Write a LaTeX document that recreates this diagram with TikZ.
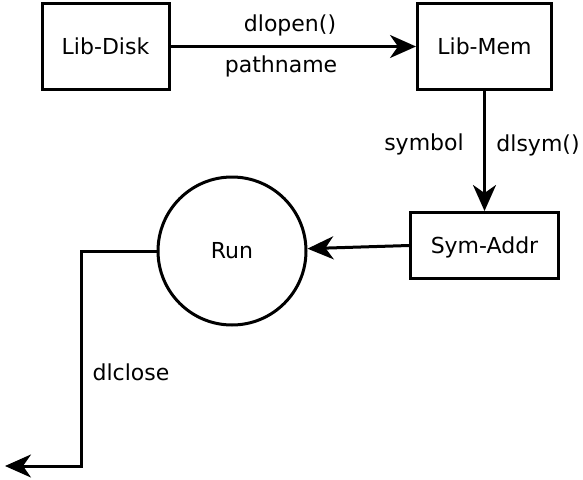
\documentclass[tikz,border=0pt]{standalone}
\usepackage{fontspec}
\setmainfont{DejaVu Sans}
\usetikzlibrary{arrows.meta}
\begin{document}
\begin{tikzpicture}[x=1pt,y=-1pt,
  font=\fontsize{22}{26}\selectfont,
  box/.style={draw,line width=3pt,inner sep=0pt,minimum width=#1,text height=17pt,text depth=2pt},
  conn/.style={line width=3pt,-{Stealth[length=26pt,width=23pt,inset=8pt]}},
  lbl/.style={inner sep=0pt}]
\useasboundingbox (0,0) rectangle (583,479);
\node[box=127pt,minimum height=86pt] (disk) at (105.5,46.5) {Lib-Disk};
\node[box=134pt,minimum height=86pt] (mem) at (484.5,46.5) {Lib-Mem};
\node[box=148pt,minimum height=66pt] (sym) at (484.5,245.5) {Sym-Addr};
\node[draw,circle,line width=3pt,minimum size=148pt,inner sep=0pt,text height=17pt,text depth=2pt] (run) at (232,251) {Run};
\coordinate (c1) at (81,466);
\coordinate (endp) at (5,466);
\draw[conn] (disk) -- (mem);
\draw[conn] (mem) -- (sym);
\draw[conn] (sym.west) -- (run);
\draw[conn] (run.west) -| (c1) -- (endp);
\node[lbl] (l1) at (290,25) {dlopen()};
\node[lbl] (l2) at (281,66) {pathname};
\node[lbl] (l3) at (424,144) {symbol};
\node[lbl] (l4) at (538,145) {dlsym()};
\node[lbl] (l5) at (131,372) {dlclose};
\end{tikzpicture}
\end{document}
